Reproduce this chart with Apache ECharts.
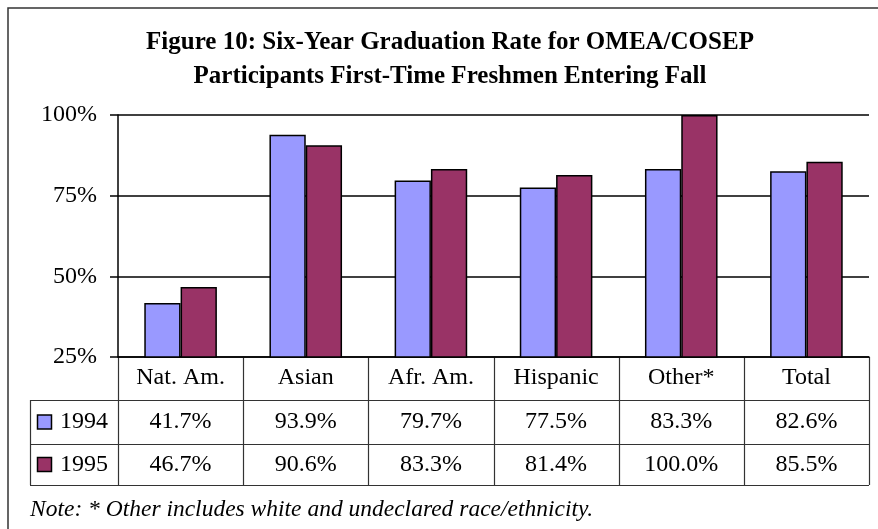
<!DOCTYPE html>
<html>
<head>
<meta charset="utf-8">
<script src="https://cdn.jsdelivr.net/npm/echarts@6/dist/echarts.min.js"></script>
<style>
  html, body { margin: 0; padding: 0; background: #fff; }
  #chart { width: 878px; height: 529px; }
</style>
</head>
<body>
<div id="chart"></div>
<script>
// data
const categories = ['Nat. Am.', 'Asian', 'Afr. Am.', 'Hispanic', 'Other*', 'Total'];
const seriesNames = ['1994', '1995'];
const rate1994 = [41.7, 93.9, 79.7, 77.5, 83.3, 82.6];
const rate1995 = [46.7, 90.6, 83.3, 81.4, 100.0, 85.5];
const titleLines = ['Figure 10: Six-Year Graduation Rate for OMEA/COSEP', 'Participants First-Time Freshmen Entering Fall'];
const noteText = 'Note: * Other includes white and undeclared race/ethnicity.';

const FONT = "'Liberation Serif', 'Times New Roman', serif";
const colors = ['#9999FF', '#993366'];
const seriesData = [rate1994, rate1995];

const chart = echarts.init(document.getElementById('chart'), null, {renderer: 'canvas'});

chart.setOption({
  animation: false,
  backgroundColor: '#fff',
  grid: {left: 118, right: 9, top: 115, bottom: 172},
  xAxis: {
    type: 'category',
    data: categories,
    axisLine: {show: true, lineStyle: {color: '#000', width: 1.5}},
    axisTick: {show: false},
    axisLabel: {
      show: true, margin: 9, color: '#000',
      fontFamily: FONT, fontSize: 24
    }
  },
  yAxis: {
    type: 'value',
    min: 25, max: 100, interval: 25,
    axisLine: {show: true, lineStyle: {color: '#000', width: 1.5}},
    axisTick: {show: true, length: 8, lineStyle: {color: '#000', width: 1.5}},
    axisLabel: {
      formatter: '{value}%', color: '#000', margin: 21,
      fontFamily: FONT, fontSize: 24
    },
    splitLine: {show: true, lineStyle: {color: '#000', width: 1.5}}
  },
  series: seriesNames.map((name, i) => ({
    name: name,
    type: 'bar',
    data: seriesData[i],
    barGap: '0%',
    barCategoryGap: '42%',
    itemStyle: {color: colors[i], borderColor: '#000', borderWidth: 1.5}
  }))
});

// title, data table and note, placed from the axis scale
const x0 = chart.convertToPixel({xAxisIndex: 0}, 0);
const x1 = chart.convertToPixel({xAxisIndex: 0}, 1);
const band = x1 - x0;
const leftEdge = x0 - band / 2;
const rightEdge = leftEdge + band * categories.length;
const axisY = chart.convertToPixel({yAxisIndex: 0}, 25);
const rowLines = [axisY + 43, axisY + 87, axisY + 128];
const tableLeft = 30;
const lineStyle = {stroke: '#333', lineWidth: 1.2};

const g = [];
// outer frame
g.push({type: 'rect', shape: {x: 8, y: 8, width: 900, height: 600}, style: {fill: 'none', stroke: '#333', lineWidth: 1.5}, z: 0});
// title
titleLines.forEach((t, i) => {
  g.push({type: 'text', x: 450, y: 43 + i * 34, style: {
    text: t, fill: '#000', font: 'bold 25px ' + FONT, align: 'center', verticalAlign: 'middle'
  }});
});
// vertical table lines at category boundaries
for (let i = 0; i <= categories.length; i++) {
  const x = Math.round(leftEdge + band * i) + 0.5;
  g.push({type: 'line', shape: {x1: x, y1: axisY, x2: x, y2: rowLines[2]}, style: lineStyle});
}
g.push({type: 'line', shape: {x1: tableLeft + 0.5, y1: rowLines[0], x2: tableLeft + 0.5, y2: rowLines[2]}, style: lineStyle});
rowLines.forEach(y => {
  g.push({type: 'line', shape: {x1: tableLeft, y1: y + 0.5, x2: rightEdge, y2: y + 0.5}, style: lineStyle});
});
// rows: legend key + values
seriesNames.forEach((name, r) => {
  const cy = (rowLines[r] + rowLines[r + 1]) / 2;
  g.push({type: 'rect', shape: {x: 37.5, y: cy - 7, width: 14, height: 14},
    style: {fill: colors[r], stroke: '#000', lineWidth: 1.5}});
  g.push({type: 'text', x: 60, y: cy, style: {
    text: name, fill: '#000', font: '24px ' + FONT, align: 'left', verticalAlign: 'middle'
  }});
  seriesData[r].forEach((v, c) => {
    g.push({type: 'text', x: chart.convertToPixel({xAxisIndex: 0}, c), y: cy, style: {
      text: v.toFixed(1) + '%', fill: '#000', font: '24px ' + FONT, align: 'center', verticalAlign: 'middle'
    }});
  });
});
// note
g.push({type: 'text', x: 30, y: 510, style: {
  text: noteText, fill: '#000', font: 'italic 23.5px ' + FONT, align: 'left', verticalAlign: 'middle'
}});

chart.setOption({graphic: g});
</script>
</body>
</html>
